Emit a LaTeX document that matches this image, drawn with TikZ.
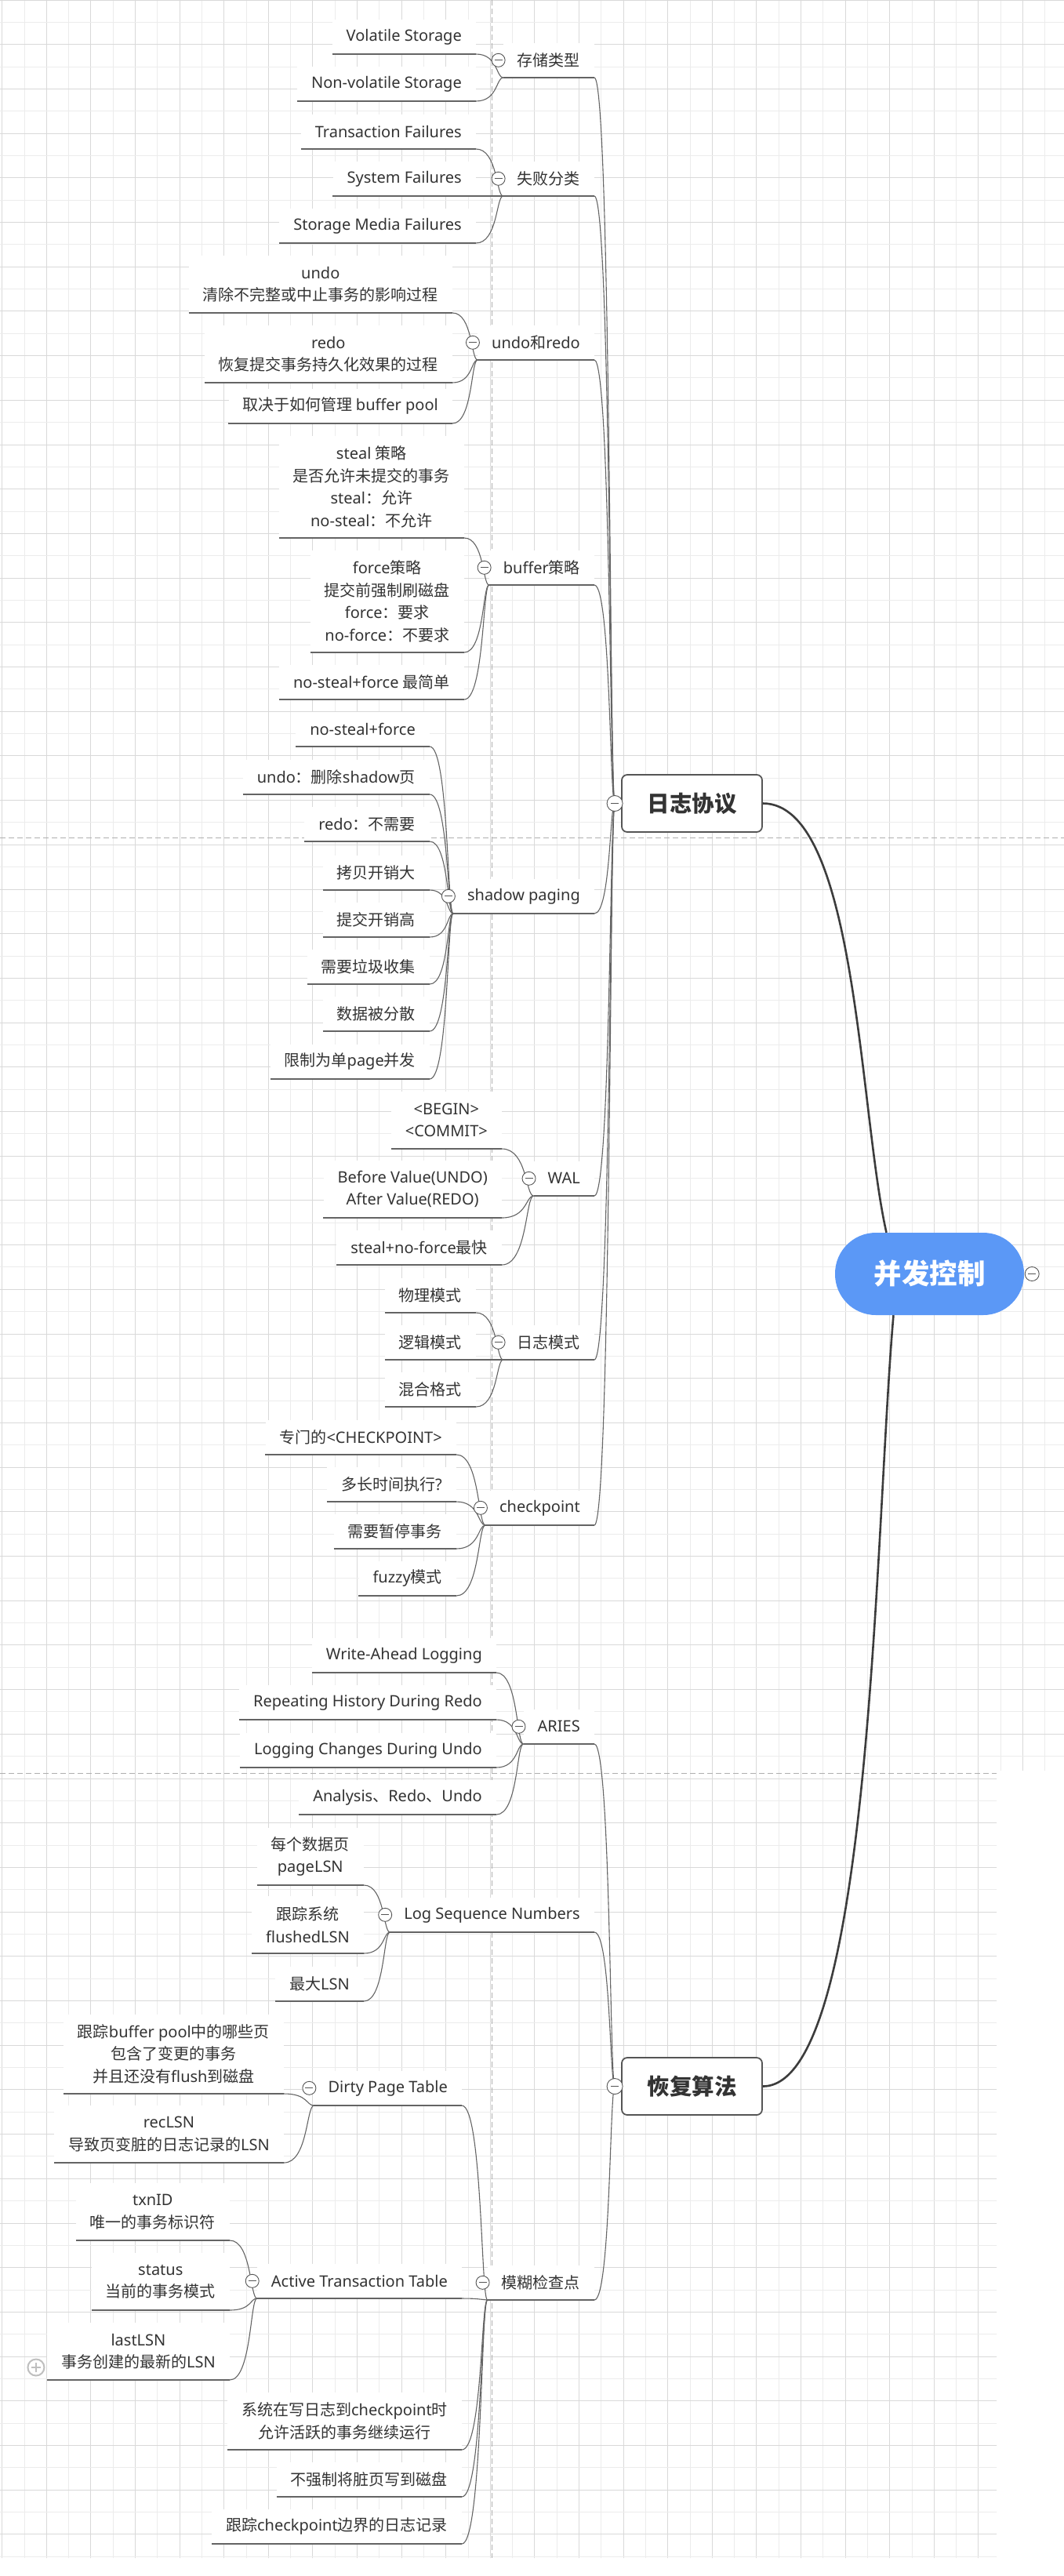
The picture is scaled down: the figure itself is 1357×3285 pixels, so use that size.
\documentclass[tikz,border=0pt]{standalone}
\usepackage{fontspec}
\setmainfont{Noto Sans}
\newfontfamily\cjkfont{Noto Sans CJK SC}
\newfontfamily\latinfont{Noto Sans}
%switch fonts between latin and cjk runs
\newXeTeXintercharclass\cjkclass
\newcount\cjkchar
\newcommand{\setcjkrange}[2]{%
    \cjkchar=#1
    \loop
    \XeTeXcharclass\cjkchar=\cjkclass
    \ifnum\cjkchar<#2 \advance\cjkchar by 1 \repeat}
\setcjkrange{"3000}{"303F}
\setcjkrange{"4E00}{"9FFF}
\setcjkrange{"FF00}{"FFEF}
\XeTeXinterchartokenstate=1
\XeTeXinterchartoks 0 \cjkclass = {\cjkfont}
\XeTeXinterchartoks 4095 \cjkclass = {\cjkfont}
\XeTeXinterchartoks \cjkclass 0 = {\latinfont}
\XeTeXinterchartoks 4095 0 = {\latinfont}
\usetikzlibrary{calc}
\definecolor{rootblue}{RGB}{91,152,246}
\definecolor{textgray}{RGB}{51,51,51}
\definecolor{boxgray}{RGB}{85,85,85}
\definecolor{linegray}{RGB}{100,100,100}
\definecolor{trunkgray}{RGB}{60,60,60}
\definecolor{gridmajor}{RGB}{217,217,217}
\definecolor{gridminor}{RGB}{236,236,236}
\definecolor{pagebreak}{RGB}{175,175,175}
\newcommand{\nodefont}{\fontsize{20}{28.5}\selectfont}
\pgfdeclarelayer{grid}
\pgfdeclarelayer{lines}
\pgfsetlayers{grid,lines,main}
\tikzset{
    rootnode/.style={
            fill=rootblue, text=white, rounded corners=52pt,
            minimum width=241pt, minimum height=105pt,
            font=\bfseries\fontsize{35.5}{40}\selectfont
        },
    mainnode/.style={
            draw=boxgray, line width=1.8pt, fill=white, rounded corners=7pt,
            text=textgray, minimum width=179pt, minimum height=73pt,
            font=\bfseries\fontsize{28.5}{34}\selectfont
        },
    uline/.style={draw=linegray, line width=1.1pt},
    leaf/.style={
            fill=white, text=textgray, font=\nodefont, align=center,
            inner xsep=18pt, inner ysep=0pt, anchor=south east,
            minimum height={44pt+(#1-1)*28.5pt},
            append after command={(\tikzlastnode.south west) edge[uline] (\tikzlastnode.south east)}
        },
    leaf/.default=1,
    minusdot/.style={
            circle, draw=boxgray, fill=white, line width=0.9pt,
            minimum size=17pt, inner sep=0pt,
            path picture={
                    \draw[boxgray, line width=0.9pt] ([xshift=-5pt]path picture bounding box.center) -- ([xshift=5pt]path picture bounding box.center);
                }
        },
    plusdot/.style={
            circle, draw=gray!50, fill=white, line width=2pt,
            minimum size=21pt, inner sep=0pt,
            path picture={
                    \draw[gray!50, line width=2pt] ([xshift=-6pt]path picture bounding box.center) -- ([xshift=6pt]path picture bounding box.center);
                    \draw[gray!50, line width=2pt] ([yshift=-6pt]path picture bounding box.center) -- ([yshift=6pt]path picture bounding box.center);
                }
        },
    trunk/.style={draw=trunkgray, line width=2.6pt},
    branch/.style={
            draw=linegray, line width=1.1pt,
            to path={let \p1=(\tikztostart), \p2=(\tikztotarget) in
                    .. controls ({\x1+0.8*(\x2-\x1)},\y1) and ({\x1+0.75*(\x2-\x1)},\y2) .. (\tikztotarget) \tikztonodes}
        },
}

\begin{document}
\begin{tikzpicture}[x=1pt, y=-1pt]
        \useasboundingbox (0,0) rectangle (1357,3285);
        %background grid
        \begin{pgfonlayer}{grid}
            \fill[white] (0,0) rectangle (1357,3285);
            \begin{scope}
                \clip (0,0) -- (1357,0) -- (1357,2258) -- (1271,2258) -- (1271,3262) -- (0,3262) -- cycle;
                \foreach \i in {0,...,24} {
                        \draw[gridminor, line width=1pt] ({31+56.6*\i},0) -- ++(0,3285);
                        \draw[gridmajor, line width=1pt] ({2.7+56.6*\i},0) -- ++(0,3285);
                    }
                \foreach \i in {0,...,58} {
                        \draw[gridminor, line width=1pt] (0,{28.3+56.7*\i}) -- ++(1357,0);
                        \draw[gridmajor, line width=1pt] (0,{56.7*\i}) -- ++(1357,0);
                    }
            \end{scope}
            %page breaks
            \draw[pagebreak, line width=1pt, dash pattern=on 7pt off 4pt] (627,0) -- (627,3262);
            \draw[pagebreak, line width=1pt, dash pattern=on 7pt off 4pt] (0,1068) -- (1357,1068);
            \draw[pagebreak, line width=1pt, dash pattern=on 7pt off 4pt] (0,2261) -- (1271,2261);
        \end{pgfonlayer}

        %root topic
        \node[rootnode] (root) at (1185.5,1624.5) {并发控制};
        \node[minusdot, minimum size=18pt] (mroot) at ([xshift=10pt]root.east) {};

        %main topics
        \node[mainnode] (logproto) at (882.5,1024.5) {日志协议};
        \node[minusdot, minimum size=20pt] (mlogproto) at ([xshift=-8pt]logproto.west) {};
        \node[mainnode] (recovery) at (882.5,2660.5) {恢复算法};
        \node[minusdot, minimum size=20pt] (mrecovery) at ([xshift=-8pt]recovery.west) {};

        %storage types
        \node[leaf] (storage) at (758,99) {存储类型};
        \node[minusdot] (mstorage) at ([xshift=-6pt]storage.west) {};
        \node[leaf] (volatile) at (607,69) {Volatile Storage};
        \node[leaf] (nonvolatile) at (607,129) {Non-volatile Storage};

        %failure classes
        \node[leaf] (failure) at (758,250) {失败分类};
        \node[minusdot] (mfailure) at ([xshift=-6pt]failure.west) {};
        \node[leaf] (txnfail) at (607,190) {Transaction Failures};
        \node[leaf] (sysfail) at (607,250) {System Failures};
        \node[leaf] (mediafail) at (607,310) {Storage Media Failures};

        %undo and redo
        \node[leaf] (undoredo) at (758,459) {undo和redo};
        \node[minusdot] (mundoredo) at ([xshift=-6pt]undoredo.west) {};
        \node[leaf=2] (undo) at (577,399) {undo\\清除不完整或中止事务的影响过程};
        \node[leaf=2] (redo) at (577,488) {redo\\恢复提交事务持久化效果的过程};
        \node[leaf] (dependbp) at (577,540) {取决于如何管理 buffer pool};

        %buffer policy
        \node[leaf] (bufpolicy) at (758,746) {buffer策略};
        \node[minusdot] (mbufpolicy) at ([xshift=-6pt]bufpolicy.west) {};
        \node[leaf=4] (steal) at (592,686) {steal 策略\\是否允许未提交的事务\\steal：允许\\no-steal：不允许};
        \node[leaf=4] (force) at (592,832) {force策略\\提交前强制刷磁盘\\force：要求\\no-force：不要求};
        \node[leaf] (simplest) at (592,892) {no-steal+force 最简单};

        %shadow paging
        \node[leaf] (shadow) at (758,1165) {shadow paging};
        \node[minusdot] (mshadow) at ([xshift=-6pt]shadow.west) {};
        \node[leaf] (spnsf) at (548,952) {no-steal+force};
        \node[leaf] (spundo) at (548,1013) {undo：删除shadow页};
        \node[leaf] (spredo) at (548,1073) {redo：不需要};
        \node[leaf] (spcopy) at (548,1135) {拷贝开销大};
        \node[leaf] (spcommit) at (548,1195) {提交开销高};
        \node[leaf] (spgc) at (548,1255) {需要垃圾收集};
        \node[leaf] (spfrag) at (548,1315) {数据被分散};
        \node[leaf] (spconc) at (548,1376) {限制为单page并发};

        %write-ahead log
        \node[leaf] (wal) at (758,1525) {WAL};
        \node[minusdot] (mwal) at ([xshift=-6pt]wal.west) {};
        \node[leaf=2] (walrec) at (640,1465) {<BEGIN>\\<COMMIT>};
        \node[leaf=2] (walval) at (640,1553) {Before Value(UNDO)\\After Value(REDO)};
        \node[leaf] (walfast) at (640,1613) {steal+no-force最快};

        %log modes
        \node[leaf] (logmode) at (758,1734) {日志模式};
        \node[minusdot] (mlogmode) at ([xshift=-6pt]logmode.west) {};
        \node[leaf] (physical) at (607,1674) {物理模式};
        \node[leaf] (logical) at (607,1734) {逻辑模式};
        \node[leaf] (hybrid) at (607,1794) {混合格式};

        %checkpoint
        \node[leaf] (checkpoint) at (758,1945) {checkpoint};
        \node[minusdot] (mcheckpoint) at ([xshift=-6pt]checkpoint.west) {};
        \node[leaf] (cprec) at (582,1855) {专门的<CHECKPOINT>};
        \node[leaf] (cpfreq) at (582,1915) {多长时间执行?};
        \node[leaf] (cppause) at (582,1975) {需要暂停事务};
        \node[leaf] (cpfuzzy) at (582,2035) {fuzzy模式};

        %aries
        \node[leaf] (aries) at (758,2224) {ARIES};
        \node[minusdot] (maries) at ([xshift=-6pt]aries.west) {};
        \node[leaf] (ariwal) at (633,2133) {Write-Ahead Logging};
        \node[leaf] (arirepeat) at (633,2193) {Repeating History During Redo};
        \node[leaf] (arilog) at (633,2254) {Logging Changes During Undo};
        \node[leaf] (ariphase) at (633,2314) {Analysis、Redo、Undo};

        %log sequence numbers
        \node[leaf] (lsn) at (758,2464) {Log Sequence Numbers};
        \node[minusdot] (mlsn) at ([xshift=-6pt]lsn.west) {};
        \node[leaf=2] (pagelsn) at (464,2404) {每个数据页\\pageLSN};
        \node[leaf=2] (flushedlsn) at (464,2491) {跟踪系统\\flushedLSN};
        \node[leaf] (maxlsn) at (464,2552) {最大LSN};

        %fuzzy checkpoint
        \node[leaf] (fuzzycp) at (758,2933) {模糊检查点};
        \node[minusdot] (mfuzzycp) at ([xshift=-6pt]fuzzycp.west) {};
        \node[leaf] (dpt) at (589,2685) {Dirty Page Table};
        \node[minusdot] (mdpt) at ([xshift=-6pt]dpt.west) {};
        \node[leaf=3] (dptdesc) at (362,2670) {跟踪buffer pool中的哪些页\\包含了变更的事务\\并且还没有flush到磁盘};
        \node[leaf=2] (reclsn) at (362,2758) {recLSN\\导致页变脏的日志记录的LSN};
        \node[leaf] (att) at (589,2931) {Active Transaction Table};
        \node[minusdot] (matt) at ([xshift=-6pt]att.west) {};
        \node[leaf=2] (txnid) at (293,2857) {txnID\\唯一的事务标识符};
        \node[leaf=2] (status) at (293,2946) {status\\当前的事务模式};
        \node[leaf=2] (lastlsn) at (293,3035) {lastLSN\\事务创建的最新的LSN};
        \node[plusdot] (lastlsnplus) at ([xshift=-14pt, yshift=16pt]lastlsn.south west) {};
        \node[leaf=2] (cpallow) at (589,3124) {系统在写日志到checkpoint时\\允许活跃的事务继续运行};
        \node[leaf] (cpnoforce) at (589,3184) {不强制将脏页写到磁盘};
        \node[leaf] (cpbound) at (589,3244) {跟踪checkpoint边界的日志记录};

        \begin{pgfonlayer}{lines}
            %root to main topics
            \draw[trunk] ([xshift=-55pt]root.north) .. controls +(-35,-155) and +(120,0) .. (logproto.east);
            \draw[trunk] ([xshift=-46pt]root.south) .. controls +(-24,275) and +(139,0) .. (recovery.east);
            %log protocol topics
            \draw[branch] (storage.south east) to (mlogproto.center);
            \draw[branch] (failure.south east) to (mlogproto.center);
            \draw[branch] (undoredo.south east) to (mlogproto.center);
            \draw[branch] (bufpolicy.south east) to (mlogproto.center);
            \draw[branch] (shadow.south east) to (mlogproto.center);
            \draw[branch] (wal.south east) to (mlogproto.center);
            \draw[branch] (logmode.south east) to (mlogproto.center);
            \draw[branch] (checkpoint.south east) to (mlogproto.center);
            %storage and failure details
            \draw[branch] (volatile.south east) to (storage.south west);
            \draw[branch] (nonvolatile.south east) to (storage.south west);
            \draw[branch] (txnfail.south east) to (failure.south west);
            \draw[branch] (sysfail.south east) to (failure.south west);
            \draw[branch] (mediafail.south east) to (failure.south west);
            %undo and redo details
            \draw[branch] (undo.south east) to (undoredo.south west);
            \draw[branch] (redo.south east) to (undoredo.south west);
            \draw[branch] (dependbp.south east) to (undoredo.south west);
            %buffer policy details
            \draw[branch] (steal.south east) to (bufpolicy.south west);
            \draw[branch] (force.south east) to (bufpolicy.south west);
            \draw[branch] (simplest.south east) to (bufpolicy.south west);
            %shadow paging details
            \draw[branch] (spnsf.south east) to (shadow.south west);
            \draw[branch] (spundo.south east) to (shadow.south west);
            \draw[branch] (spredo.south east) to (shadow.south west);
            \draw[branch] (spcopy.south east) to (shadow.south west);
            \draw[branch] (spcommit.south east) to (shadow.south west);
            \draw[branch] (spgc.south east) to (shadow.south west);
            \draw[branch] (spfrag.south east) to (shadow.south west);
            \draw[branch] (spconc.south east) to (shadow.south west);
            %wal details
            \draw[branch] (walrec.south east) to (wal.south west);
            \draw[branch] (walval.south east) to (wal.south west);
            \draw[branch] (walfast.south east) to (wal.south west);
            %log mode details
            \draw[branch] (physical.south east) to (logmode.south west);
            \draw[branch] (logical.south east) to (logmode.south west);
            \draw[branch] (hybrid.south east) to (logmode.south west);
            %checkpoint details
            \draw[branch] (cprec.south east) to (checkpoint.south west);
            \draw[branch] (cpfreq.south east) to (checkpoint.south west);
            \draw[branch] (cppause.south east) to (checkpoint.south west);
            \draw[branch] (cpfuzzy.south east) to (checkpoint.south west);
            %recovery topics
            \draw[branch] (aries.south east) to (mrecovery.center);
            \draw[branch] (lsn.south east) to (mrecovery.center);
            \draw[branch] (fuzzycp.south east) to (mrecovery.center);
            %aries details
            \draw[branch] (ariwal.south east) to (aries.south west);
            \draw[branch] (arirepeat.south east) to (aries.south west);
            \draw[branch] (arilog.south east) to (aries.south west);
            \draw[branch] (ariphase.south east) to (aries.south west);
            %lsn details
            \draw[branch] (pagelsn.south east) to (lsn.south west);
            \draw[branch] (flushedlsn.south east) to (lsn.south west);
            \draw[branch] (maxlsn.south east) to (lsn.south west);
            %fuzzy checkpoint details
            \draw[branch] (dpt.south east) to (fuzzycp.south west);
            \draw[branch] (att.south east) to (fuzzycp.south west);
            \draw[branch] (cpallow.south east) to (fuzzycp.south west);
            \draw[branch] (cpnoforce.south east) to (fuzzycp.south west);
            \draw[branch] (cpbound.south east) to (fuzzycp.south west);
            \draw[branch] (dptdesc.south east) to (dpt.south west);
            \draw[branch] (reclsn.south east) to (dpt.south west);
            \draw[branch] (txnid.south east) to (att.south west);
            \draw[branch] (status.south east) to (att.south west);
            \draw[branch] (lastlsn.south east) to (att.south west);
        \end{pgfonlayer}
    \end{tikzpicture}
\end{document}
